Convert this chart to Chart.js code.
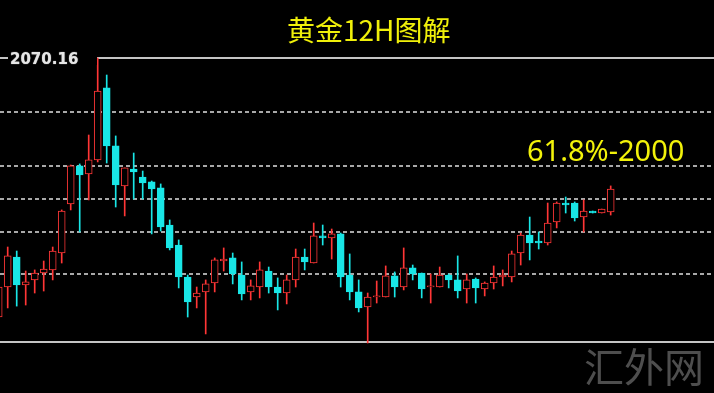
<!DOCTYPE html>
<html>
<head>
<meta charset="utf-8">
<title>黄金12H图解</title>
<script src="https://cdn.jsdelivr.net/npm/chart.js@4.4.0/dist/chart.umd.min.js"></script>
<style>
  html, body { margin: 0; padding: 0; background: #000; }
  #wrap { position: relative; width: 714px; height: 393px; background: #000; overflow: hidden; }
  .txt { position: absolute; white-space: nowrap; line-height: 1; }
  #title { left: 287px; top: 9px; font: 28px "Noto Sans CJK SC", sans-serif; color: #f0f00a; }
  #fib { left: 527px; top: 130px; font: 29px "Noto Sans", sans-serif; color: #f2f20a; }
  #mark { left: 584px; top: 336px; font: 40px "Noto Sans CJK SC", sans-serif; color: #4e4e4e; }
  #high { left: 8px; top: 50px; width: 87px; padding-left: 2px; height: 15px; line-height: 15px;
          background: #000; font: bold 15px "DejaVu Sans", sans-serif; color: #e6e6e6;
          text-shadow: 0 0 1px #777, 0 0 1px #777; }
</style>
</head>
<body>
<div id="wrap">
  <canvas id="grafico"></canvas>
  <div class="txt" id="high">2070.16</div>
  <div class="txt" id="title">黄金12H图解</div>
  <div class="txt" id="fib">61.8%-2000</div>
  <div class="txt" id="mark">汇外网</div>
</div>
<script>
// velas de 12 horas (OHLC)
const opens = [1901.8,1921.3,1940.8,1922.6,1925.9,1930.4,1932.4,1943.4,1975.3,2000.0,
  1994.8,2003.9,2050.7,2013.0,1987.0,1998.0,1992.8,1989.6,1985.7,1961.6,
  1948.6,1927.8,1914.8,1918.1,1923.9,1938.2,1940.2,1929.1,1918.1,1921.3,
  1931.7,1921.3,1917.4,1925.9,1940.8,1936.9,1954.5,1953.2,1955.8,1929.1,
  1918.1,1908.3,1914.8,1914.8,1928.5,1921.3,1933.7,1930.4,1921.3,1921.3,
  1929.1,1925.9,1920.0,1926.5,1920.0,1923.9,1927.8,1927.8,1943.4,1955.1,
  1951.2,1949.9,1963.6,1975.9,1975.9,1966.8,1970.7,1969.4,1970.1];
const highs = [1924.6,1947.3,1944.7,1931.7,1932.4,1938.2,1947.3,1971.4,2000.6,2001.3,
  2020.1,2070.16,2059.1,2019.5,1998.7,2008.4,1996.7,1990.2,1988.3,1964.9,
  1951.9,1929.1,1921.3,1925.9,1940.2,1946.7,1943.4,1937.6,1925.9,1937.6,
  1934.3,1927.2,1929.1,1946.0,1946.0,1962.9,1961.6,1959.0,1956.4,1942.8,
  1925.9,1917.4,1925.2,1935.0,1931.1,1946.7,1935.6,1930.4,1929.8,1934.3,
  1929.8,1941.5,1929.8,1927.2,1924.6,1935.0,1932.4,1944.7,1956.4,1966.8,
  1957.1,1975.9,1976.6,1979.8,1976.6,1977.9,1970.7,1972.0,1987.0];
const lows = [1898.6,1907.7,1908.9,1909.6,1917.4,1918.7,1925.9,1936.9,1971.4,1957.1,
  1977.9,2002.6,2001.9,1973.3,1967.5,1978.5,1978.5,1955.8,1957.7,1945.4,
  1920.7,1901.8,1907.7,1890.8,1918.1,1931.7,1923.3,1912.9,1912.9,1914.2,
  1917.4,1906.4,1910.3,1921.3,1932.4,1936.9,1948.6,1939.5,1921.3,1912.9,
  1905.1,1884.9,1910.9,1914.8,1914.8,1919.4,1925.9,1914.2,1910.9,1921.3,
  1920.7,1914.2,1910.9,1910.9,1915.5,1920.0,1922.0,1924.6,1935.6,1938.9,
  1946.0,1948.6,1959.7,1969.4,1964.2,1957.1,1969.4,1969.4,1968.1];
const closes = [1921.3,1941.5,1922.6,1924.6,1930.4,1933.0,1944.7,1970.7,2000.0,1994.1,
  2003.9,2048.7,2013.0,1987.6,1998.7,1996.1,1988.9,1985.0,1960.3,1946.7,
  1927.8,1911.6,1917.4,1923.3,1938.9,1939.5,1929.8,1916.8,1922.0,1932.4,
  1921.3,1917.4,1925.9,1940.8,1937.6,1954.5,1953.2,1955.8,1927.8,1918.1,
  1907.7,1914.8,1915.5,1928.5,1921.3,1933.7,1929.8,1920.0,1922.0,1929.1,
  1925.9,1918.7,1925.9,1920.7,1923.9,1927.8,1929.1,1942.8,1955.1,1949.9,
  1949.9,1962.9,1975.9,1974.6,1966.2,1970.7,1969.4,1972.0,1985.0];

// niveis horizontais (maxima, retracoes, minima)
const levels = [2070.16, 2035.1, 2000.0, 1978.5, 1957.1, 1929.8, 1885.6];

const corAlta = '#ff3636';
const corBaixa = '#19e6e6';
const sobe = i => closes[i] >= opens[i];
const solida = c => c.tick && (c.tick.value === levels[0] || c.tick.value === levels[levels.length - 1]);

const corpos = opens.map((o, i) => ({ x: i, y: [o, closes[i]] }));
const pavios = lows.map((l, i) => ({ x: i, y: [l, highs[i]] }));

new Chart(document.getElementById('grafico'), {
  type: 'bar',
  data: {
    datasets: [
      {
        data: corpos,
        order: 0,
        grouped: false,
        barThickness: 7,
        minBarLength: 1,
        borderWidth: 1,
        borderSkipped: false,
        borderColor: c => sobe(c.dataIndex) ? corAlta : corBaixa,
        backgroundColor: c => sobe(c.dataIndex) ? '#000' : corBaixa
      },
      {
        data: pavios,
        order: 1,
        grouped: false,
        barThickness: 1,
        borderWidth: 0,
        backgroundColor: c => sobe(c.dataIndex) ? corAlta : corBaixa
      }
    ]
  },
  options: {
    responsive: true,
    maintainAspectRatio: false,
    animation: false,
    layout: { padding: 0 },
    plugins: { legend: { display: false }, tooltip: { enabled: false } },
    scales: {
      x: { type: 'linear', display: false, offset: false, min: 0.144, max: 79.478 },
      y: {
        min: 1852.41,
        max: 2107.86,
        afterBuildTicks: s => { s.ticks = levels.map(v => ({ value: v })); },
        ticks: { display: false },
        border: { display: false, dash: c => solida(c) ? [] : [4, 3] },
        grid: {
          drawTicks: false,
          lineWidth: 2,
          color: c => solida(c) ? '#c4c4c4' : '#a8a8a8'
        }
      }
    }
  }
});
</script>
</body>
</html>
